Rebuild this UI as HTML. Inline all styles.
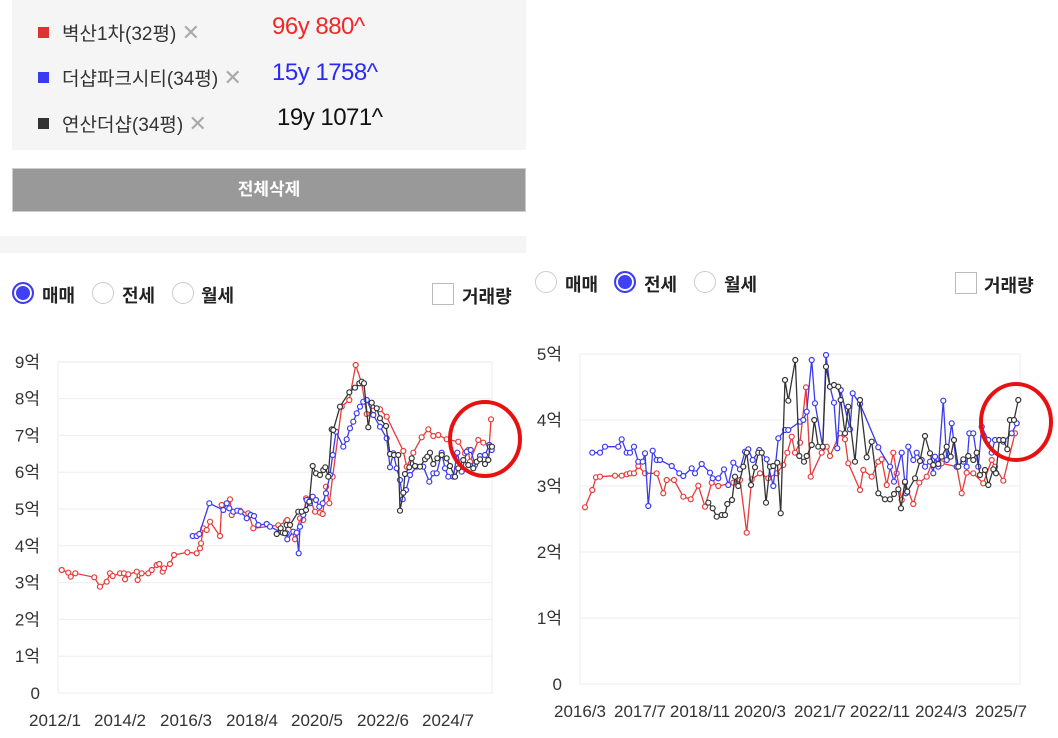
<!DOCTYPE html>
<html><head><meta charset="utf-8"><style>
body{margin:0;width:1058px;height:738px;background:#fff;overflow:hidden;font-family:"Liberation Sans","Noto Sans CJK KR",sans-serif;position:relative}
.a{position:absolute}
.lg{font-size:19px;color:#333;left:62px}
.lg span{font-size:22px;color:#aaa}
.sq{width:11px;height:11px;left:38px}
.val{font-size:24px;letter-spacing:-0.5px}
.rad{width:22px;height:22px;border:1.5px solid #ccc;border-radius:50%;box-sizing:border-box;background:#fff}
.rad.on{border:2px solid #3b3bf0;background:#4040f5;box-shadow:inset 0 0 0 2px #fff}
.rl{font-size:18px;font-weight:bold;color:#222}
.cb{width:22px;height:22px;border:1.5px solid #bbb;box-sizing:border-box}
</style></head><body>
<div class="a" style="left:12px;top:0;width:514px;height:150px;background:#f5f5f5"></div>
<div class="a sq" style="top:27px;background:#e03030"></div>
<div class="a lg" style="top:19px">벽산1차(32평) <span>✕</span></div>
<div class="a val" style="left:272px;top:13px;color:#f02828">96y 880^</div>
<div class="a sq" style="top:72px;background:#3a3af0"></div>
<div class="a lg" style="top:64px">더샵파크시티(34평) <span>✕</span></div>
<div class="a val" style="left:272px;top:59px;color:#2a2af5">15y 1758^</div>
<div class="a sq" style="top:118px;background:#333"></div>
<div class="a lg" style="top:110px">연산더샵(34평) <span>✕</span></div>
<div class="a val" style="left:277px;top:104px;color:#111">19y 1071^</div>
<div class="a" style="left:12px;top:168px;width:514px;height:44px;background:#999;border:1px solid #ccc;box-sizing:border-box;color:#fff;font-weight:bold;font-size:17px;text-align:center;line-height:42px">전체삭제</div>
<div class="a" style="left:0;top:236px;width:526px;height:17px;background:#f5f5f5"></div>

<div class="a rad on" style="left:12px;top:282px"></div><div class="a rl" style="left:42px;top:282px">매매</div>
<div class="a rad" style="left:92px;top:282px"></div><div class="a rl" style="left:122px;top:282px">전세</div>
<div class="a rad" style="left:172px;top:282px"></div><div class="a rl" style="left:201px;top:282px">월세</div>
<div class="a cb" style="left:432px;top:283px"></div><div class="a rl" style="left:462px;top:283px">거래량</div>

<div class="a rad" style="left:535px;top:271px"></div><div class="a rl" style="left:565px;top:271px">매매</div>
<div class="a rad on" style="left:614px;top:271px"></div><div class="a rl" style="left:644px;top:271px">전세</div>
<div class="a rad" style="left:694px;top:271px"></div><div class="a rl" style="left:724px;top:271px">월세</div>
<div class="a cb" style="left:955px;top:272px"></div><div class="a rl" style="left:984px;top:272px">거래량</div>

<svg id="s" class="a" style="left:0;top:0" width="1058" height="738" xmlns="http://www.w3.org/2000/svg"></svg>
<script>
var s=document.getElementById('s'),h='';
function t(x,y,txt,a){h+='<text x="'+x+'" y="'+y+'" font-size="17" fill="#333" text-anchor="'+(a||'middle')+'" font-family="Liberation Sans,Noto Sans CJK KR,sans-serif">'+txt+'</text>';}
h+='<rect x="58" y="362" width="434" height="331" fill="none" stroke="#eee"/>';
for(var i=0;i<=9;i++){var y=693-i*36.8;h+='<line x1="58" x2="492" y1="'+y+'" y2="'+y+'" stroke="#eee"/>';t(40,y+6,i?i+'억':'0','end');}
[['2012/1',55],['2014/2',120],['2016/3',186],['2018/4',252],['2020/5',317],['2022/6',383],['2024/7',448]].forEach(function(d){t(d[1],726,d[0]);});
h+='<rect x="580" y="354" width="440" height="330" fill="none" stroke="#eee"/>';
for(var i=0;i<=5;i++){var y=684-i*66;h+='<line x1="580" x2="1020" y1="'+y+'" y2="'+y+'" stroke="#eee"/>';t(562,y+6,i?i+'억':'0','end');}
[['2016/3',580],['2017/7',640],['2018/11',700],['2020/3',760],['2021/7',820],['2022/11',880],['2024/3',941],['2025/7',1001]].forEach(function(d){t(d[1],717,d[0]);});
function ser(p,ox,oy,c){var pts=[];for(var i=0;i<p.length;i+=2)pts.push((ox+p[i]/3).toFixed(1)+','+(oy+p[i+1]/3).toFixed(1));
h+='<polyline points="'+pts.join(' ')+'" fill="none" stroke="'+c+'" stroke-width="1.3"/>';
pts.forEach(function(q){var a=q.split(',');h+='<circle cx="'+a[0]+'" cy="'+a[1]+'" r="2.5" fill="#fff" stroke="'+c+'" stroke-width="1.2"/>';});}
var R='#e83a3a',B='#3a3aef',K='#333';
ser([185,690,205,698,212,710,226,700,283,712,300,740,320,725,330,700,338,708,360,700,372,700,375,718,385,703,410,695,413,720,425,700,445,700,455,690,470,675,478,672,488,695,492,685,510,672,522,645,562,637,590,640,600,625,603,610,610,565,620,570,630,545,660,588,665,495,690,478,695,525,720,512,745,520,760,565,835,556,858,545,862,540,885,598,900,535,910,540,918,475,930,478,945,515,960,518,968,522,978,440,988,490,998,410,1025,200,1048,180,1067,75,1085,130,1100,222,1120,212,1140,208,1160,230,1210,333,1220,380,1240,338,1265,292,1285,268,1300,288,1315,285,1340,298,1375,305,1395,340,1405,330,1410,365,1435,300,1450,308,1468,315,1473,238],0,340,R);
ser([578,588,590,588,598,582,628,490,670,510,680,490,688,505,700,515,712,512,722,515,740,535,752,525,762,528,775,555,800,552,810,560,840,575,860,580,862,598,880,575,890,578,896,640,900,560,910,525,920,480,930,490,938,470,948,480,958,500,968,490,978,460,990,405,998,345,1008,275,1030,320,1040,298,1050,265,1060,245,1070,220,1080,200,1090,185,1100,180,1120,225,1140,260,1160,295,1170,382,1180,340,1190,385,1200,420,1208,478,1218,450,1230,405,1250,380,1270,380,1288,425,1300,400,1310,400,1325,338,1335,385,1345,410,1360,410,1372,338,1385,395,1400,335,1412,330,1425,375,1440,348,1455,345,1468,315,1475,330],0,340,B);
ser([830,582,842,565,848,578,855,580,860,555,870,555,895,515,905,515,918,510,928,485,938,378,948,400,960,405,970,390,976,382,985,410,995,268,1000,270,1020,200,1048,157,1065,143,1078,130,1085,125,1092,130,1105,262,1115,188,1130,205,1140,235,1158,258,1170,342,1182,345,1195,345,1200,512,1210,458,1215,402,1228,382,1235,355,1245,378,1260,380,1275,358,1282,350,1290,338,1300,372,1312,355,1325,345,1340,355,1350,378,1365,410,1375,385,1390,360,1405,375,1420,385,1430,365,1440,358,1455,372,1465,360,1470,320,1476,320],0,340,K);
ser([165,742,187,690,198,652,210,650,255,647,275,647,290,643,300,640,312,640,325,618,345,640,380,640,400,700,410,660,432,660,460,710,482,718,505,677,525,740,545,668,565,678,610,668,630,660,650,818,665,658,690,640,715,655,740,640,760,615,772,578,785,530,795,578,810,548,828,382,842,650,875,578,890,560,900,588,930,520,945,538,955,610,990,690,1000,630,1025,650,1045,605,1055,598,1070,675,1090,578,1100,640,1115,720,1125,668,1150,732,1168,668,1190,650,1210,598,1235,610,1280,620,1295,700,1310,638,1330,640,1360,670,1385,600,1395,620,1420,662,1455,520],530,260,R);
ser([187,578,210,578,225,560,265,560,275,538,290,578,300,578,312,560,325,605,338,605,345,580,355,738,368,572,380,600,390,600,425,618,448,640,460,648,485,625,495,640,515,612,540,638,548,655,565,655,582,628,595,675,610,608,630,628,645,575,655,568,668,600,688,570,710,598,730,678,745,535,765,510,775,510,810,485,820,480,830,455,845,300,855,430,878,560,888,285,900,380,912,428,922,565,932,390,960,508,968,400,990,432,1045,562,1080,620,1092,665,1115,578,1128,700,1135,560,1150,600,1160,578,1175,600,1185,620,1200,605,1210,640,1215,590,1225,620,1240,422,1250,600,1265,490,1280,620,1300,605,1310,620,1318,520,1330,520,1345,620,1355,500,1375,540,1385,578,1395,540,1420,545,1445,520,1460,490],530,260,B);
ser([535,728,548,745,560,770,575,765,585,765,592,732,606,720,615,650,625,678,640,620,650,578,663,675,675,622,685,578,695,578,708,728,720,620,730,618,742,608,752,760,765,360,775,422,796,300,808,588,822,605,830,588,845,555,853,480,865,560,878,560,888,320,900,380,912,375,925,380,932,420,945,520,955,440,975,605,990,420,1010,592,1025,545,1045,700,1065,718,1080,718,1092,702,1105,688,1113,745,1125,665,1132,695,1155,655,1170,603,1185,528,1200,580,1210,615,1225,612,1235,590,1250,560,1262,590,1272,540,1285,620,1300,598,1315,588,1330,600,1340,578,1350,645,1365,630,1375,675,1390,628,1398,640,1408,540,1420,540,1432,568,1440,480,1452,480,1465,420],530,260,K);
h+='<ellipse cx="485" cy="439" rx="35" ry="37" fill="none" stroke="#e81010" stroke-width="4"/>';
h+='<ellipse cx="1016" cy="422" rx="35" ry="38" fill="none" stroke="#e81010" stroke-width="4"/>';
s.innerHTML=h;
</script>
</body></html>
